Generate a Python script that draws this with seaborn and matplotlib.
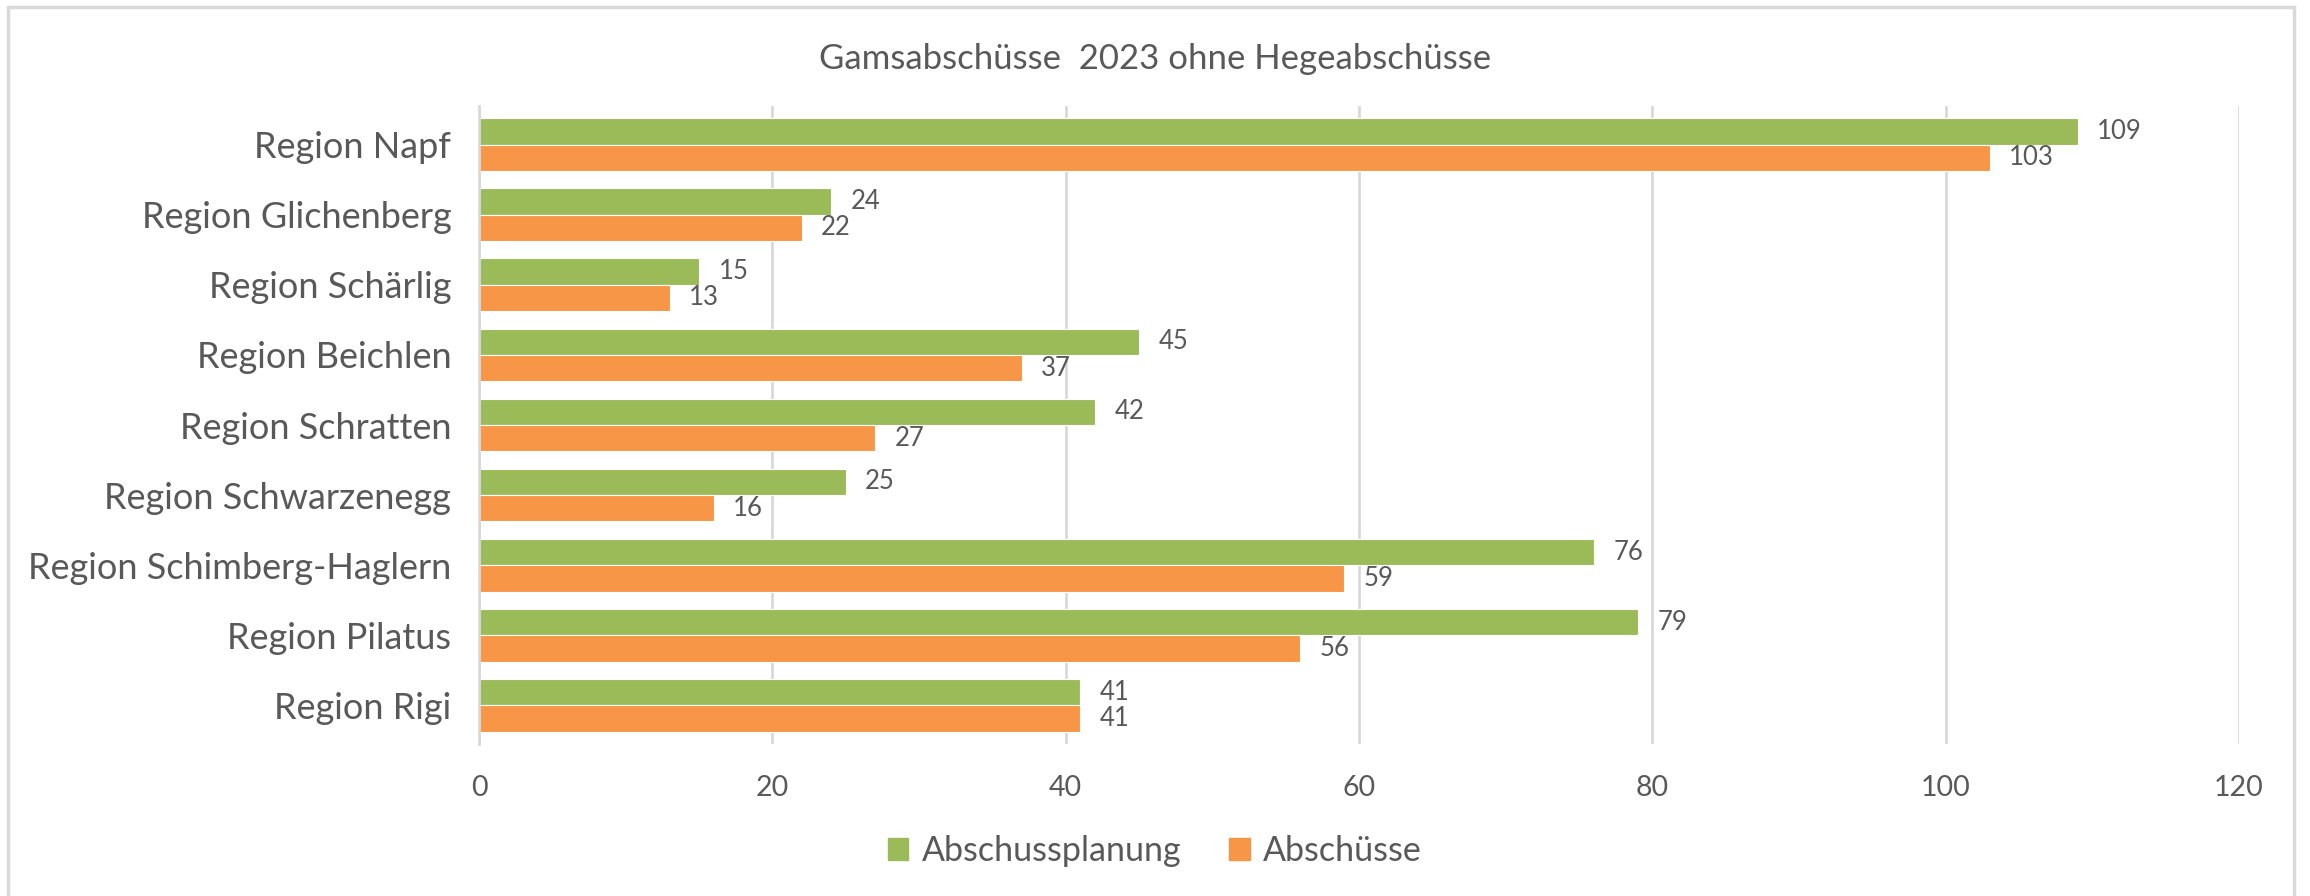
import numpy as np
import pandas as pd
import matplotlib
matplotlib.use("Agg")
import matplotlib.pyplot as plt
import seaborn as sns
from matplotlib.patches import Rectangle

# ----- data -----
regions = ["Region Napf", "Region Glichenberg", "Region Schärlig", "Region Beichlen",
           "Region Schratten", "Region Schwarzenegg", "Region Schimberg-Haglern",
           "Region Pilatus", "Region Rigi"]
planung = [109, 24, 15, 45, 42, 25, 76, 79, 41]
abschuesse = [103, 22, 13, 37, 27, 16, 59, 56, 41]
series = ["Abschussplanung", "Abschüsse"]
colors = ["#9BBB59", "#F79646"]
xticks = [0, 20, 40, 60, 80, 100, 120]

df = pd.DataFrame({
    "Region": regions * 2,
    "Wert": planung + abschuesse,
    "Serie": [series[0]] * len(regions) + [series[1]] * len(regions),
})

# ----- style -----
sns.set_style("white")
plt.rcParams["font.family"] = ["Lato", "DejaVu Sans"]
txt = "#595959"
grid = "#D9D9D9"

fig = plt.figure(figsize=(23.1, 8.96), dpi=100)
ax = fig.add_axes([0.2074, 0.1696, 0.7619, 0.7121])

sns.barplot(data=df, y="Region", x="Wert", hue="Serie", order=regions,
            hue_order=series, palette=colors, saturation=1, orient="h",
            width=0.75, gap=0, edgecolor="white", linewidth=0.8, ax=ax, legend=True)

for cont in ax.containers:
    ax.bar_label(cont, padding=14, fontsize=18.5, color=txt)

ax.set_xlim(0, 120)
ax.set_ylim(8.55, -0.55)
ax.set_xticks(xticks)
ax.xaxis.grid(True, color=grid, linewidth=2)
ax.set_axisbelow(True)
for s in ["top", "right", "bottom"]:
    ax.spines[s].set_visible(False)
ax.spines["left"].set_color(grid)
ax.spines["left"].set_linewidth(2)
ax.set_xlabel("")
ax.set_ylabel("")
ax.tick_params(axis="x", labelsize=20.5, colors=txt, length=0, pad=22)
ax.tick_params(axis="y", labelsize=26, colors=txt, length=0, pad=20)

ax.get_legend().remove()
handles = [plt.Rectangle((0, 0), 1, 1, color=c) for c in colors]
fig.legend(handles, series, loc="center", bbox_to_anchor=(0.5, 0.05), ncol=2,
           frameon=False, fontsize=24.5, labelcolor=txt, handlelength=0.6,
           handleheight=0.6, handletextpad=0.4, columnspacing=1.4)

fig.text(0.5, 0.934, "Gamsabschüsse  2023 ohne Hegeabschüsse", ha="center",
         va="center", fontsize=25, color=txt)

# chart border
fig.patches.append(Rectangle((8 / 2310, -0.02), (2294 - 8) / 2310, 1 - 7 / 896 + 0.02,
                             transform=fig.transFigure, fill=False,
                             edgecolor=grid, linewidth=2.5))

fig.savefig("out.png", dpi=100, facecolor="white")
